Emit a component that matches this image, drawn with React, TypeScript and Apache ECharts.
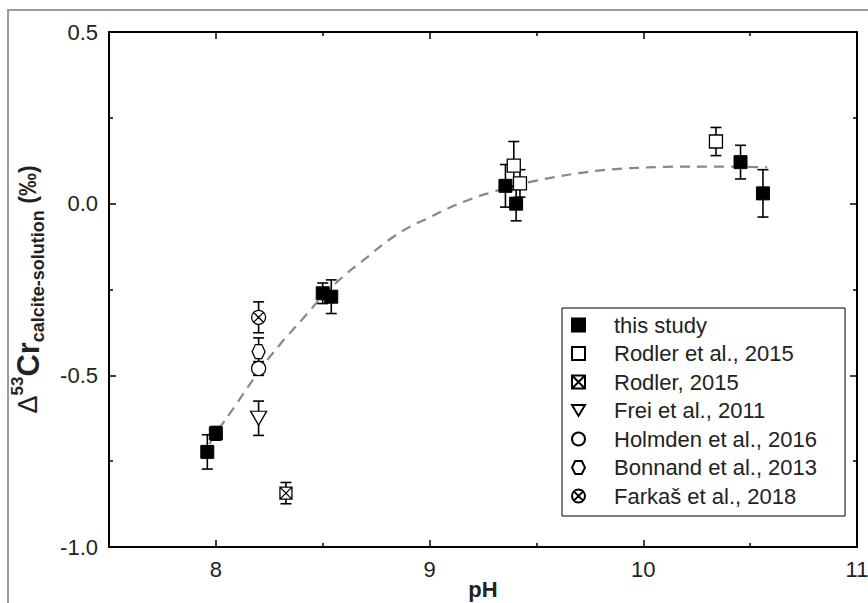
import React, { useEffect, useRef } from "react";
import * as echarts from "echarts";

// ---- data ----
const thisStudyX = [7.96, 8.0, 8.5, 8.54, 9.355, 9.405, 10.455, 10.56];
const thisStudyY = [-0.723, -0.669, -0.261, -0.271, 0.052, 0.0, 0.121, 0.03];
const thisStudyErr = [0.05, 0.02, 0.03, 0.049, 0.062, 0.05, 0.049, 0.069];

const rodlerEtAlX = [9.394, 9.423, 10.34];
const rodlerEtAlY = [0.111, 0.059, 0.181];
const rodlerEtAlErr = [0.07, 0.04, 0.041];

const rodlerX = [8.328];
const rodlerY = [-0.843];
const rodlerErr = [0.031];

const freiX = [8.2];
const freiY = [-0.625];
const freiErr = [0.05];

const holmdenX = [8.2];
const holmdenY = [-0.48];
const holmdenErr = [0.02];

const bonnandX = [8.2];
const bonnandY = [-0.431];
const bonnandErr = [0.04];

const farkasX = [8.2];
const farkasY = [-0.331];
const farkasErr = [0.045];

const fitX = [7.97, 8.0, 8.1, 8.2, 8.3, 8.4, 8.5, 8.6, 8.7, 8.8, 8.9, 9.0, 9.1, 9.2, 9.3, 9.4, 9.5, 9.6, 9.7, 9.8, 9.9, 10.0, 10.1, 10.2, 10.3, 10.4, 10.5, 10.58];
const fitY = [-0.7, -0.67, -0.58, -0.49, -0.41, -0.34, -0.27, -0.21, -0.16, -0.11, -0.07, -0.04, -0.01, 0.015, 0.035, 0.053, 0.067, 0.079, 0.089, 0.097, 0.102, 0.105, 0.107, 0.108, 0.108, 0.108, 0.107, 0.106];

const seriesNames = [
  "this study",
  "Rodler et al., 2015",
  "Rodler, 2015",
  "Frei et al., 2011",
  "Holmden et al., 2016",
  "Bonnand et al., 2013",
  "Farkaš et al., 2018",
];

const xLabelValues = [8, 9, 10, 11];
const xMajorTicks = [8, 9, 10];
const xMinorTicks = [8.5, 9.5, 10.5];
const xRange = { min: 7.5, max: 11 };
const yTicks = { min: -1.0, max: 0.5, interval: 0.5 };

const FONT = "Liberation Sans, Arial, sans-serif";

const SYM_SQUARE_X = "path://M0,0H10V10H0Z M0,0L10,10 M10,0L0,10";
const SYM_TRI_DOWN = "path://M0,0L12,0L6,10Z";
const SYM_HEX = "path://M2.5,0L7.5,0L10,5L7.5,10L2.5,10L0,5Z";
const SYM_CIRCLE_X =
  "path://M10,5A5,5 0 1 1 0,5A5,5 0 1 1 10,5Z M1.46,1.46L8.54,8.54 M8.54,1.46L1.46,8.54";

function zip(xs: number[], ys: number[]) {
  return xs.map((x, i) => [x, ys[i]]);
}
function zip3(xs: number[], ys: number[], es: number[]) {
  return xs.map((x, i) => [x, ys[i], es[i]]);
}

export default function App() {
  const ref = useRef<HTMLDivElement>(null);

  useEffect(() => {
    if (!ref.current) return;
    const chart = echarts.init(ref.current, null, { renderer: "svg" });

    const errData = [
      ...zip3(thisStudyX, thisStudyY, thisStudyErr),
      ...zip3(rodlerEtAlX, rodlerEtAlY, rodlerEtAlErr),
      ...zip3(rodlerX, rodlerY, rodlerErr),
      ...zip3(freiX, freiY, freiErr),
      ...zip3(holmdenX, holmdenY, holmdenErr),
      ...zip3(bonnandX, bonnandY, bonnandErr),
      ...zip3(farkasX, farkasY, farkasErr),
    ];

    const openStyle = { color: "#fff", borderColor: "#000", borderWidth: 1.3, opacity: 1 };

    const scatter = (name: string, data: number[][], symbol: string, size: any, itemStyle: any) => ({
      type: "scatter",
      name,
      data,
      symbol,
      symbolSize: size,
      itemStyle,
      z: 5,
      emphasis: { disabled: true },
    });

    const lineStyle = { color: "#000", width: 2 };
    const tickStyle = { color: "#000", width: 1.5 };

    const xAxisMain = (position: string, withLabels: boolean) => ({
      type: "value",
      position,
      min: xRange.min,
      max: xRange.max,
      interval: 0.5,
      axisLine: { show: true, onZero: false, lineStyle },
      axisTick: { show: true, inside: true, length: 7, customValues: xMajorTicks, lineStyle: tickStyle },
      minorTick: { show: false },
      splitLine: { show: false },
      axisLabel: withLabels
        ? { show: true, customValues: xLabelValues, fontFamily: FONT, fontSize: 22, color: "#222", margin: 11, formatter: (v: number) => String(v) }
        : { show: false },
    });
    const xAxisMinor = (position: string) => ({
      type: "value",
      position,
      min: xRange.min,
      max: xRange.max,
      interval: 0.5,
      axisLine: { show: false, onZero: false },
      axisTick: { show: true, inside: true, length: 4, customValues: xMinorTicks, lineStyle: tickStyle },
      minorTick: { show: false },
      splitLine: { show: false },
      axisLabel: { show: false },
    });

    const yAxisCommon = {
      type: "value",
      min: yTicks.min,
      max: yTicks.max,
      interval: yTicks.interval,
      axisLine: { show: true, onZero: false, lineStyle },
      axisTick: { show: true, inside: true, length: 7, lineStyle: tickStyle },
      minorTick: { show: true, splitNumber: 2, length: 4, lineStyle: tickStyle },
      splitLine: { show: false },
      minorSplitLine: { show: false },
    };

    chart.setOption({
      animation: false,
      backgroundColor: "#fff",
      grid: { left: 109, right: 11, top: 32, bottom: 56, containLabel: false, outerBoundsMode: "none" },
      xAxis: [
        {
          ...xAxisMain("bottom", true),
          name: "pH",
          nameLocation: "middle",
          nameGap: 31,
          nameMoveOverlap: false,
          nameTextStyle: { fontFamily: FONT, fontSize: 22, fontWeight: "bold", color: "#222" },
        },
        xAxisMain("top", false),
        xAxisMinor("bottom"),
        xAxisMinor("top"),
      ],
      yAxis: [
        {
          ...yAxisCommon,
          position: "left",
          axisLabel: {
            fontFamily: FONT,
            fontSize: 22,
            color: "#222",
            margin: 11,
            formatter: (v: number) => v.toFixed(1),
          },
          name: "{d|Δ}{sup|53}{cr|Cr}{sub|calcite-solution}{p| (‰)}",
          nameLocation: "middle",
          nameGap: 62,
          nameMoveOverlap: false,
          nameTextStyle: {
            color: "#222",
            rich: {
              d: { fontFamily: FONT, fontSize: 27, color: "#222", lineHeight: 38 },
              sup: { fontFamily: FONT, fontSize: 17, fontWeight: "bold", color: "#222", verticalAlign: "top", lineHeight: 38 },
              cr: { fontFamily: FONT, fontSize: 31, fontWeight: "bold", color: "#222", lineHeight: 38 },
              sub: { fontFamily: FONT, fontSize: 18, fontWeight: "bold", color: "#222", verticalAlign: "bottom", lineHeight: 38 },
              p: { fontFamily: FONT, fontSize: 23, fontWeight: "bold", color: "#222", lineHeight: 38 },
            },
          },
        },
        {
          ...yAxisCommon,
          position: "right",
          axisLabel: { show: false },
        },
      ],
      legend: {
        data: seriesNames,
        orient: "vertical",
        left: 562,
        top: 308,
        itemWidth: 13,
        itemHeight: 13,
        itemGap: 6.5,
        padding: [6, 28, 9, 9],
        borderColor: "#000",
        borderWidth: 1,
        backgroundColor: "#fff",
        textStyle: { fontFamily: FONT, fontSize: 22, color: "#222", padding: [0, 0, 0, 24] },
        selectedMode: false,
      },
      series: [
        {
          type: "line",
          name: "fit",
          data: zip(fitX, fitY),
          smooth: true,
          showSymbol: false,
          symbol: "none",
          lineStyle: { color: "#888", width: 2.2, type: [10, 7] },
          z: 1,
          silent: true,
        },
        {
          type: "custom",
          name: "errors",
          data: errData,
          z: 3,
          silent: true,
          renderItem: (params: any, api: any) => {
            const x = api.value(0);
            const y = api.value(1);
            const e = api.value(2);
            const top = api.coord([x, y + e]);
            const bot = api.coord([x, y - e]);
            const hw = 5.5;
            const style = { stroke: "#000", lineWidth: 1.6 };
            return {
              type: "group",
              children: [
                { type: "line", shape: { x1: top[0], y1: top[1], x2: bot[0], y2: bot[1] }, style },
                { type: "line", shape: { x1: top[0] - hw, y1: top[1], x2: top[0] + hw, y2: top[1] }, style },
                { type: "line", shape: { x1: bot[0] - hw, y1: bot[1], x2: bot[0] + hw, y2: bot[1] }, style },
              ],
            };
          },
        },
        scatter(seriesNames[0], zip(thisStudyX, thisStudyY), "rect", 13, { color: "#000", borderColor: "#000", borderWidth: 1, opacity: 1 }),
        scatter(seriesNames[1], zip(rodlerEtAlX, rodlerEtAlY), "rect", 13, openStyle),
        scatter(seriesNames[2], zip(rodlerX, rodlerY), SYM_SQUARE_X, 12, openStyle),
        scatter(seriesNames[3], zip(freiX, freiY), SYM_TRI_DOWN, [16, 14], openStyle),
        scatter(seriesNames[4], zip(holmdenX, holmdenY), "circle", 14, openStyle),
        scatter(seriesNames[5], zip(bonnandX, bonnandY), SYM_HEX, [13, 14], openStyle),
        scatter(seriesNames[6], zip(farkasX, farkasY), SYM_CIRCLE_X, 14, openStyle),
      ],
      graphic: [
        { type: "line", shape: { x1: 8, y1: 10, x2: 8, y2: 603 }, style: { stroke: "#9a9a9a", lineWidth: 2 }, silent: true },
        { type: "line", shape: { x1: 7, y1: 10, x2: 868, y2: 10 }, style: { stroke: "#9a9a9a", lineWidth: 2 }, silent: true },
      ],
    });

    return () => chart.dispose();
  }, []);

  return (
    <div
      ref={ref}
      style={{ position: "fixed", left: 0, top: 0, width: 868, height: 603, background: "#fff" }}
    />
  );
}
